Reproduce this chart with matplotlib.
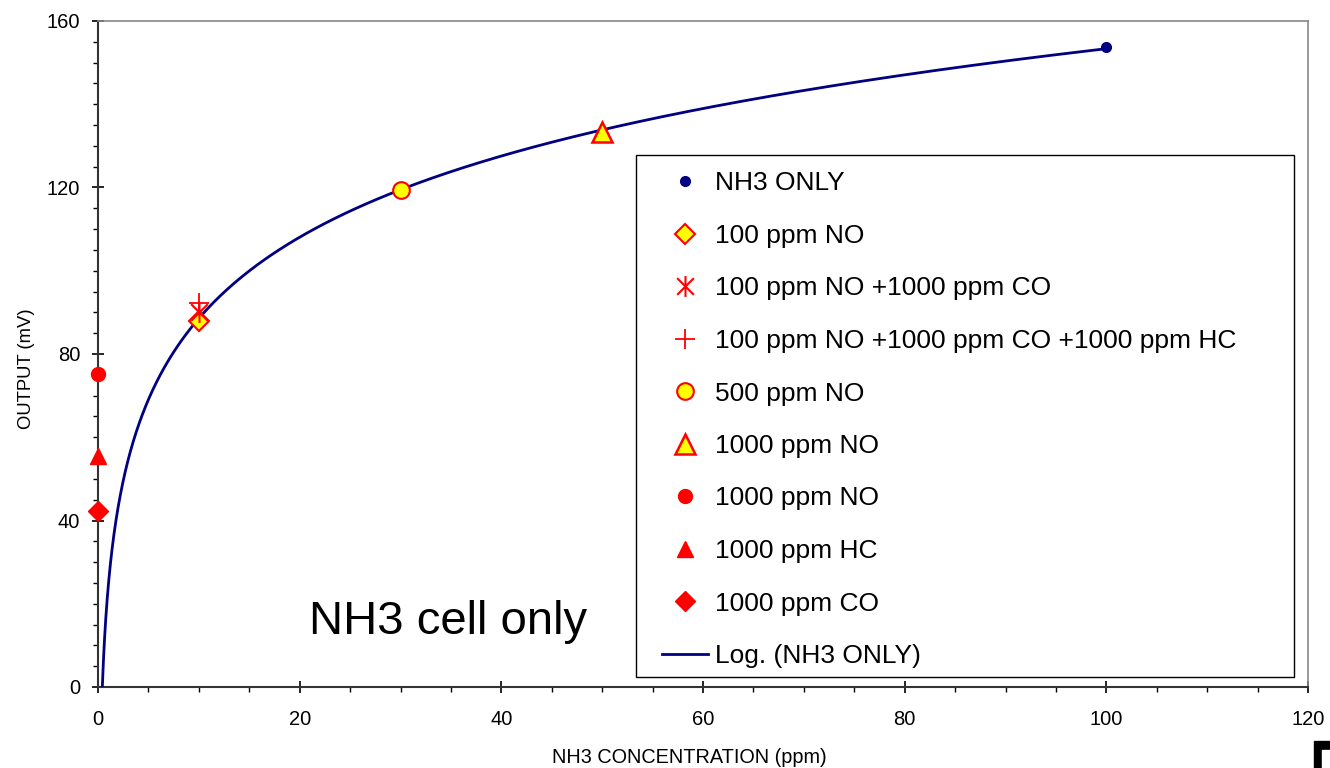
import numpy as np
import matplotlib
matplotlib.use("Agg")
import matplotlib.pyplot as plt
from matplotlib.path import Path
from matplotlib.patches import Rectangle

plt.rcParams['font.family'] = ['Liberation Sans', 'DejaVu Sans']

# data (ppm NH3, output mV)
nh3_x = [10, 30, 50, 100]
nh3_y = [88.8, 119.3, 133.3, 153.8]

no100_x = [10]
no100_y = [88.0]
no100_co_x = [10]
no100_co_y = [90.0]
no100_co_hc_x = [10]
no100_co_hc_y = [92.3]
no500_x = [30]
no500_y = [119.3]
no1000_x = [50]
no1000_y = [133.4]
only_no1000_x = [0]
only_no1000_y = [75.3]
only_hc1000_x = [0]
only_hc1000_y = [55.5]
only_co1000_x = [0]
only_co1000_y = [42.4]

labels = ['NH3 ONLY', '100 ppm NO', '100 ppm NO +1000 ppm CO',
          '100 ppm NO +1000 ppm CO +1000 ppm HC', '500 ppm NO',
          '1000 ppm NO', '1000 ppm NO', '1000 ppm HC', '1000 ppm CO',
          'Log. (NH3 ONLY)']

# star marker like the spreadsheet one: x with a vertical bar
star = Path([(-1, -1), (1, 1), (-1, 1), (1, -1), (0, -1.25), (0, 1.25)],
            [Path.MOVETO, Path.LINETO, Path.MOVETO, Path.LINETO,
             Path.MOVETO, Path.LINETO])

W, H = 1330, 768
fig = plt.figure(figsize=(W / 100, H / 100), dpi=100)
ax = fig.add_axes([98 / W, 1 - 687 / H, 1210 / W, 666 / H])

navy = '#000080'
red = '#ff0000'
yel = '#ffff00'

h = []
h += ax.plot(nh3_x[-1:], nh3_y[-1:], 'o', ms=7, color=navy, mec=navy, zorder=5)
h += ax.plot(no100_x, no100_y, 'D', ms=10, mfc=yel, mec=red, mew=1.5, zorder=4)
h += ax.plot(no100_co_x, no100_co_y, marker=star, ls='none', ms=15, mec=red,
             mfc='none', mew=1.5, zorder=5)
h += ax.plot(no100_co_hc_x, no100_co_hc_y, '+', ms=15, mec=red, mew=1.3, zorder=5)
h += ax.plot(no500_x, no500_y, 'o', ms=12, mfc=yel, mec=red, mew=1.5, zorder=4)
h += ax.plot(no1000_x, no1000_y, '^', ms=14, mfc=yel, mec=red, mew=1.8, zorder=4)
h += ax.plot(only_no1000_x, only_no1000_y, 'o', ms=10, color=red, clip_on=False, zorder=5)
h += ax.plot(only_hc1000_x, only_hc1000_y, '^', ms=12, color=red, clip_on=False, zorder=5)
h += ax.plot(only_co1000_x, only_co1000_y, 'D', ms=10, color=red, clip_on=False, zorder=5)

# logarithmic trend line fitted to NH3 ONLY points
a, b = np.polyfit(np.log(nh3_x), nh3_y, 1)
x0 = np.exp(-b / a)
xf = np.geomspace(x0, max(nh3_x), 500)
h += ax.plot(xf, a * np.log(xf) + b, color=navy, lw=2, zorder=3)

ax.set_xlim(0, 120)
ax.set_ylim(0, 160)
ax.set_xticks(np.arange(0, 121, 20))
ax.set_yticks(np.arange(0, 161, 40))
ax.set_xticks(np.arange(0, 121, 5), minor=True)
ax.set_yticks(np.arange(0, 161, 5), minor=True)
ax.tick_params(which='major', direction='inout', length=8.6, width=1.2, labelsize=14.5)
ax.tick_params(which='minor', direction='out', length=3.6, width=1)
ax.tick_params(axis='x', which='major', pad=12)
ax.tick_params(axis='y', which='major', pad=8.6)
for s in ['left', 'bottom']:
    ax.spines[s].set_linewidth(1.5)
    ax.spines[s].set_color('#333333')
for s in ['top', 'right']:
    ax.spines[s].set_linewidth(1.2)
    ax.spines[s].set_color('#888888')

ax.set_xlabel('NH3 CONCENTRATION (ppm)', fontsize=14.3)
ax.set_ylabel('OUTPUT (mV)', fontsize=13.3)
ax.xaxis.set_label_coords((689.5 - 98) / 1210, (687 - 748) / 666)
ax.yaxis.set_label_coords((35 - 98) / 1210, (687 - 369) / 666)

fig.text(448 / W, 1 - 634 / H, 'NH3 cell only', fontsize=34,
         ha='center', va='baseline')

# legend frame drawn separately so the box matches the original size
ax.add_patch(Rectangle((636 / W, 1 - 677 / H), 658 / W, 522 / H,
                       transform=fig.transFigure, facecolor='white',
                       edgecolor='black', lw=1.0, zorder=6, clip_on=False))
leg = ax.legend(h, labels, loc='upper left',
                bbox_to_anchor=(662 / W, 1 - 171.5 / H),
                bbox_transform=fig.transFigure, fontsize=19, frameon=False,
                labelspacing=1.08, handlelength=1.74, handletextpad=0.27,
                borderpad=0, borderaxespad=0, numpoints=1)
leg.set_zorder(7)

# little black mark at bottom right corner
fig.patches.append(Rectangle((1314 / W, 0), 16 / W, 27 / H,
                             transform=fig.transFigure, color='black'))
fig.patches.append(Rectangle((1322 / W, 0), 8 / W, 18 / H,
                             transform=fig.transFigure, color='white'))

fig.savefig('out.png', dpi=100)
